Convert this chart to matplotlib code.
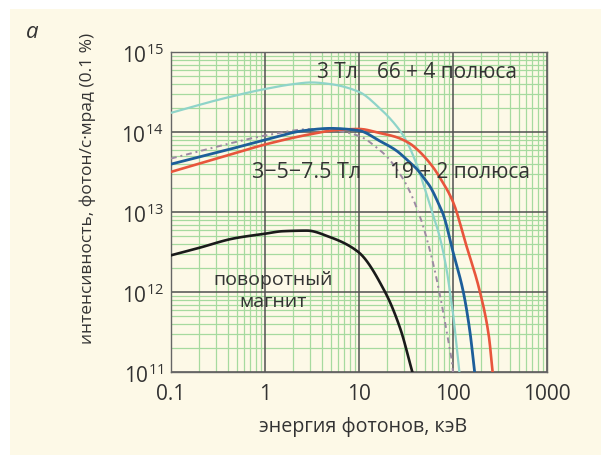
import math
import numpy as np
import matplotlib
matplotlib.use("Agg")
import matplotlib.pyplot as plt
from matplotlib.ticker import LogLocator, FixedLocator, FuncFormatter, NullFormatter
from matplotlib.patches import Rectangle

plt.rcParams['font.family'] = ['Open Sans', 'DejaVu Sans']
plt.rcParams['mathtext.fontset'] = 'custom'
plt.rcParams['mathtext.rm'] = 'Open Sans'

# ---- data (photon energy keV, intensity photons/s/mrad/0.1%) ----
cyan_x = [0.1, 0.34, 1.03, 2.0, 3.1, 5.0, 10, 16.6, 25, 31, 41, 50, 60, 72, 85, 93, 100, 106, 117]
cyan_y = [1.75e14, 2.6e14, 3.5e14, 4.0e14, 4.2e14, 4.0e14, 3.2e14, 2.0e14, 1.2e14, 8.3e13,
          4.0e13, 2.0e13, 1.0e13, 5.0e12, 2.0e12, 1.0e12, 5.5e11, 3.0e11, 1.0e11]

blue_x = [0.1, 0.39, 1.03, 2.6, 5.0, 10, 16.6, 25, 32, 41, 50, 57, 72, 79, 100, 129, 151, 170]
blue_y = [4.0e13, 6.0e13, 8.1e13, 1.05e14, 1.12e14, 1.05e14, 7.8e13, 5.9e13, 4.6e13, 3.5e13,
          2.6e13, 2.1e13, 1.2e13, 9.3e12, 3.2e12, 1.0e12, 3.3e11, 1.0e11]

red_x = [0.1, 0.39, 1.03, 3.1, 5.9, 10, 16.6, 25, 35, 41, 45, 62, 72, 100, 139, 194, 240, 264]
red_y = [3.2e13, 5.1e13, 7.1e13, 9.5e13, 1.07e14, 1.1e14, 9.8e13, 8.7e13, 7.2e13, 6.2e13,
         5.6e13, 3.6e13, 2.75e13, 1.35e13, 3.8e12, 1.0e12, 2.9e11, 1.0e11]

dash_x = [0.1, 0.39, 1.1, 3.1, 5.0, 10, 16.6, 20, 25, 32, 45, 62, 76, 89, 97, 100]
dash_y = [4.7e13, 7.1e13, 9.3e13, 1.1e14, 1.07e14, 9.0e13, 6.0e13, 4.9e13, 3.5e13, 2.2e13,
          8.5e12, 2.2e12, 7.0e11, 2.5e11, 1.4e11, 1.0e11]

black_x = [0.1, 0.2, 0.46, 1.0, 1.55, 2.8, 4.9, 9.8, 19, 27.5, 37]
black_y = [2.9e12, 3.6e12, 4.7e12, 5.4e12, 5.8e12, 5.9e12, 4.9e12, 3.2e12, 1.0e12, 3.5e11, 1.0e11]

x_ticks = [0.1, 1, 10, 100, 1000]
x_tick_labels = ["0.1", "1", "10", "100", "1000"]
y_exps = [11, 12, 13, 14, 15]


def smooth_path(xs, ys, n=12):
    """Monotone cubic (PCHIP) path through the read points, in log-log space (rendering only)."""
    lx = np.log10(np.asarray(xs, float))
    ly = np.log10(np.asarray(ys, float))
    h = np.diff(lx)
    d = np.diff(ly) / h
    m = np.zeros_like(lx)
    for k in range(1, len(lx) - 1):
        if d[k - 1] * d[k] > 0:
            w1 = 2 * h[k] + h[k - 1]
            w2 = h[k] + 2 * h[k - 1]
            m[k] = (w1 + w2) / (w1 / d[k - 1] + w2 / d[k])
    m[0] = d[0]
    m[-1] = d[-1]
    px, py = [lx[0]], [ly[0]]
    for k in range(len(h)):
        t = np.linspace(0, 1, n + 1)[1:]
        h00 = 2 * t**3 - 3 * t**2 + 1
        h10 = t**3 - 2 * t**2 + t
        h01 = -2 * t**3 + 3 * t**2
        h11 = t**3 - t**2
        px.extend(lx[k] + t * h[k])
        py.extend(h00 * ly[k] + h10 * h[k] * m[k] + h01 * ly[k + 1] + h11 * h[k] * m[k + 1])
    return 10 ** np.array(px), 10 ** np.array(py)


# ---- figure ----
W, H = 608, 456
fig = plt.figure(figsize=(W / 100, H / 100), dpi=100, facecolor='white')
cream = '#fdf9e7'
fig.patches.append(Rectangle((10 / W, 0), (601 - 10) / W, (H - 10) / H,
                             transform=fig.transFigure, facecolor=cream,
                             edgecolor='none', zorder=-10))

rect = [171 / W, 1 - 373.3 / H, (547 - 171) / W, (373.3 - 53.3) / H]

# background axes: cream fill + green minor grid
bg = fig.add_axes(rect)
bg.set_zorder(0)
bg.set_facecolor(cream)
# main axes: major grid, curves, labels
ax = fig.add_axes(rect)
ax.set_zorder(1)
ax.patch.set_alpha(0)

for a in (bg, ax):
    a.set_xscale('log')
    a.set_yscale('log')
    a.set_xlim(0.1, 1000)
    a.set_ylim(1e11, 1e15)
    a.xaxis.set_minor_locator(LogLocator(base=10, subs=range(2, 10), numticks=20))
    a.yaxis.set_minor_locator(LogLocator(base=10, subs=range(2, 10), numticks=20))
    a.xaxis.set_minor_formatter(NullFormatter())
    a.yaxis.set_minor_formatter(NullFormatter())
    a.xaxis.set_major_locator(FixedLocator(x_ticks))
    a.yaxis.set_major_locator(FixedLocator([10.0 ** e for e in y_exps]))
    a.tick_params(which='both', length=0)

bg.grid(which='minor', color='#a6da9f', linewidth=0.9)
bg.set_xticklabels([])
bg.set_yticklabels([])
for s in bg.spines.values():
    s.set_visible(False)

ax.xaxis.set_major_formatter(FuncFormatter(
    lambda v, p: x_tick_labels[min(range(len(x_ticks)), key=lambda i: abs(math.log10(x_ticks[i]) - math.log10(v)))]))
ax.yaxis.set_major_formatter(FuncFormatter(lambda v, p: r'$\mathregular{10^{%d}}$' % round(math.log10(v))))
ax.grid(which='major', color='#505050', linewidth=1.1)
ax.grid(which='minor', visible=False)
ax.set_axisbelow(True)
ax.tick_params(which='both', labelcolor='#333333', labelsize=15)
ax.tick_params(axis='x', pad=8)
ax.tick_params(axis='y', pad=5)
for s in ax.spines.values():
    s.set_color('#666666')
    s.set_linewidth(1.0)

ax.plot(*smooth_path(cyan_x, cyan_y), color='#8fd4c9', lw=1.6, zorder=3)
ax.plot(*smooth_path(dash_x, dash_y), color='#9d8aa3', lw=1.4, ls=(0, (3, 2, 1, 2)), zorder=3)
ax.plot(*smooth_path(red_x, red_y), color='#e8553c', lw=1.9, zorder=4)
ax.plot(*smooth_path(blue_x, blue_y), color='#1d5e9a', lw=2.0, zorder=5)
ax.plot(*smooth_path(black_x, black_y), color='#1a1a1a', lw=1.9, zorder=5)

tc = '#333333'
def ptext(x, y, s, **kw):
    fig.text(x / W, 1 - y / H, s, color=tc, zorder=10, **kw)

ptext(317, 73, "3 Тл", fontsize=15, ha='left', va='center')
ptext(377, 73, "66 + 4 полюса", fontsize=15, ha='left', va='center')
ptext(252, 172, "3−5−7.5 Тл", fontsize=15.5, ha='left', va='center')
ptext(390, 172, "19 + 2 полюса", fontsize=15, ha='left', va='center')
ptext(273, 280, "поворотный", fontsize=14, ha='center', va='center')
ptext(273, 302, "магнит", fontsize=14, ha='center', va='center')
ptext(32, 33, "a", fontsize=16, ha='center', va='center', style='italic')
ptext(88, 188, "интенсивность, фотон/с·мрад (0.1 %)", fontsize=12.5, ha='center',
      va='center', rotation=90)
ptext(363, 427, "энергия фотонов, кэВ", fontsize=14.2, ha='center', va='center')

fig.savefig('out.png', dpi=100, facecolor='white')
